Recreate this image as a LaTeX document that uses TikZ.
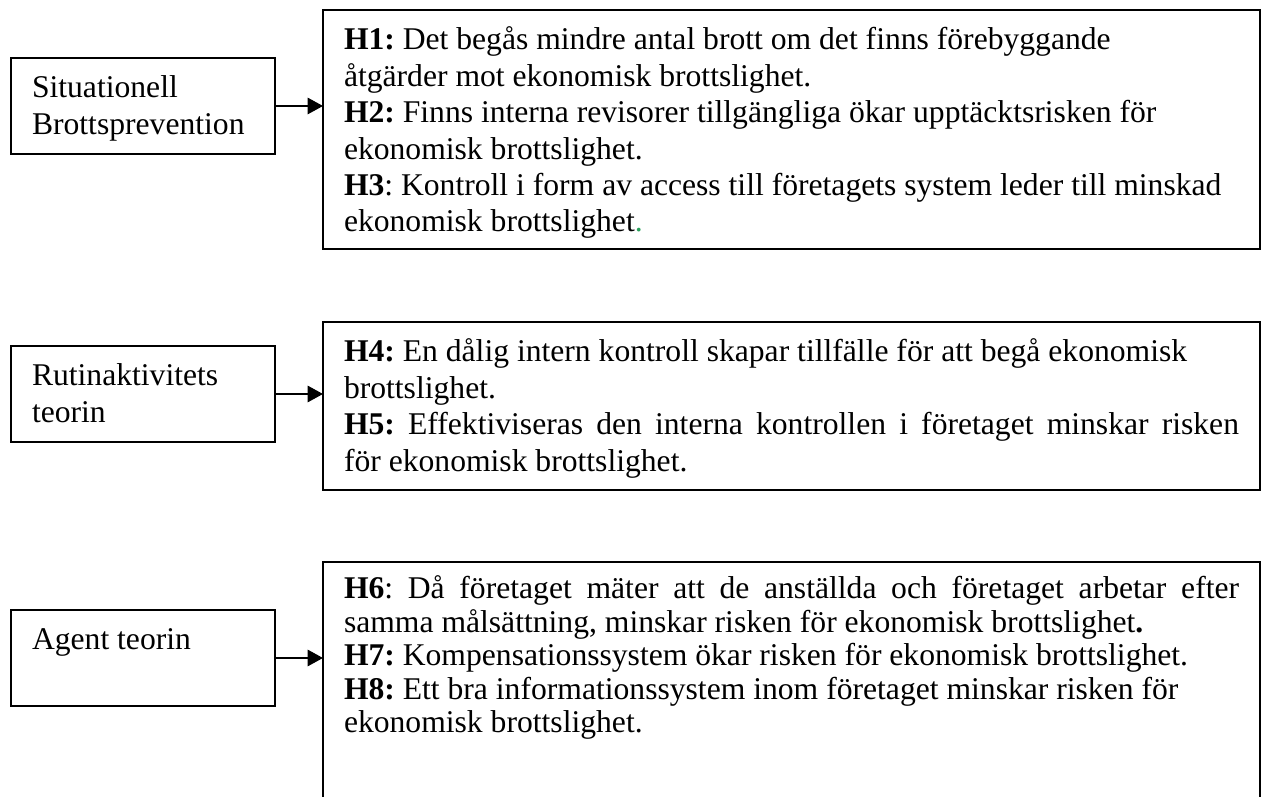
\documentclass[tikz,border=0pt]{standalone}
\usepackage{fontspec}
\setmainfont{Liberation Serif}
\usepackage{tikz}
\usetikzlibrary{arrows.meta}
\definecolor{dotgreen}{RGB}{40,160,90}
\frenchspacing
\hyphenpenalty=10000
\exhyphenpenalty=10000
\newlength{\pxl}
\setlength{\pxl}{0.01333cm}
\newcommand{\fullline}[1]{\leavevmode\hbox to 895\pxl{#1}}
\tikzset{
 theory box/.style={draw,line width=.6pt,anchor=north west,outer sep=0pt,
                    inner xsep=21*\pxl,inner ysep=0pt,
                    execute at begin node={\raggedright\spaceskip=0pt\xspaceskip=0pt},
                    text width=222*\pxl,text height=40*\pxl,text depth=56*\pxl,
                    font=\fontsize{12pt}{13.8pt}\selectfont},
 hyp box/.style={theory box,text width=895*\pxl},
 hyp arrow/.style={line width=.6pt,-{Triangle[length=5.8pt,width=6.2pt]}}
}
\begin{document}
\begin{tikzpicture}[x=0.01333cm,y=-0.01333cm]
 \useasboundingbox (0,0) rectangle (1265,797);
 \clip (0,0) rectangle (1265,797);

 % Theories on the left.
 \node[theory box] (sit) at (11,58) {Situationell\\Brottsprevention};
 \node[theory box] (rut) at (11,346) {Rutinaktivitets\\teorin};
 \node[theory box] (agent) at (11,610) {Agent teorin};

 % Hypotheses on the right; the last box runs off the page.
 \node[hyp box,text depth=199*\pxl] (hyp1) at (323,10) {%
  \textbf{H1:} Det begås mindre antal brott om det finns förebyggande\\
  åtgärder mot ekonomisk brottslighet.\\
  \textbf{H2:} Finns interna revisorer tillgängliga ökar upptäcktsrisken för\\
  ekonomisk brottslighet.\\
  \textbf{H3}: Kontroll i form av access till företagets system leder till minskad\\
  ekonomisk brottslighet\textcolor{dotgreen}{.}};
 \node[hyp box,text depth=128*\pxl] (hyp2) at (323,322) {%
  \textbf{H4:} En dålig intern kontroll skapar tillfälle för att begå ekonomisk\\
  brottslighet.\\
  \fullline{\textbf{H5:} Effektiviseras den interna kontrollen i företaget minskar risken}\\
  för ekonomisk brottslighet.};
 \node[hyp box,text height=37*\pxl,text depth=231*\pxl,
       font=\fontsize{12pt}{12.7pt}\selectfont] (hyp3) at (323,562) {%
  \fullline{\textbf{H6}: Då företaget mäter att de anställda och företaget arbetar efter}\\
  samma målsättning, minskar risken för ekonomisk brottslighet\textbf{.}\\
  \textbf{H7:} Kompensationssystem ökar risken för ekonomisk brottslighet.\\
  \textbf{H8:} Ett bra informationssystem inom företaget minskar risken för\\
  ekonomisk brottslighet.};

 \draw[hyp arrow] (sit.east) -- (sit.east -| hyp1.west);
 \draw[hyp arrow] (rut.east) -- (rut.east -| hyp2.west);
 \draw[hyp arrow] (agent.east) -- (agent.east -| hyp3.west);
\end{tikzpicture}
\end{document}
